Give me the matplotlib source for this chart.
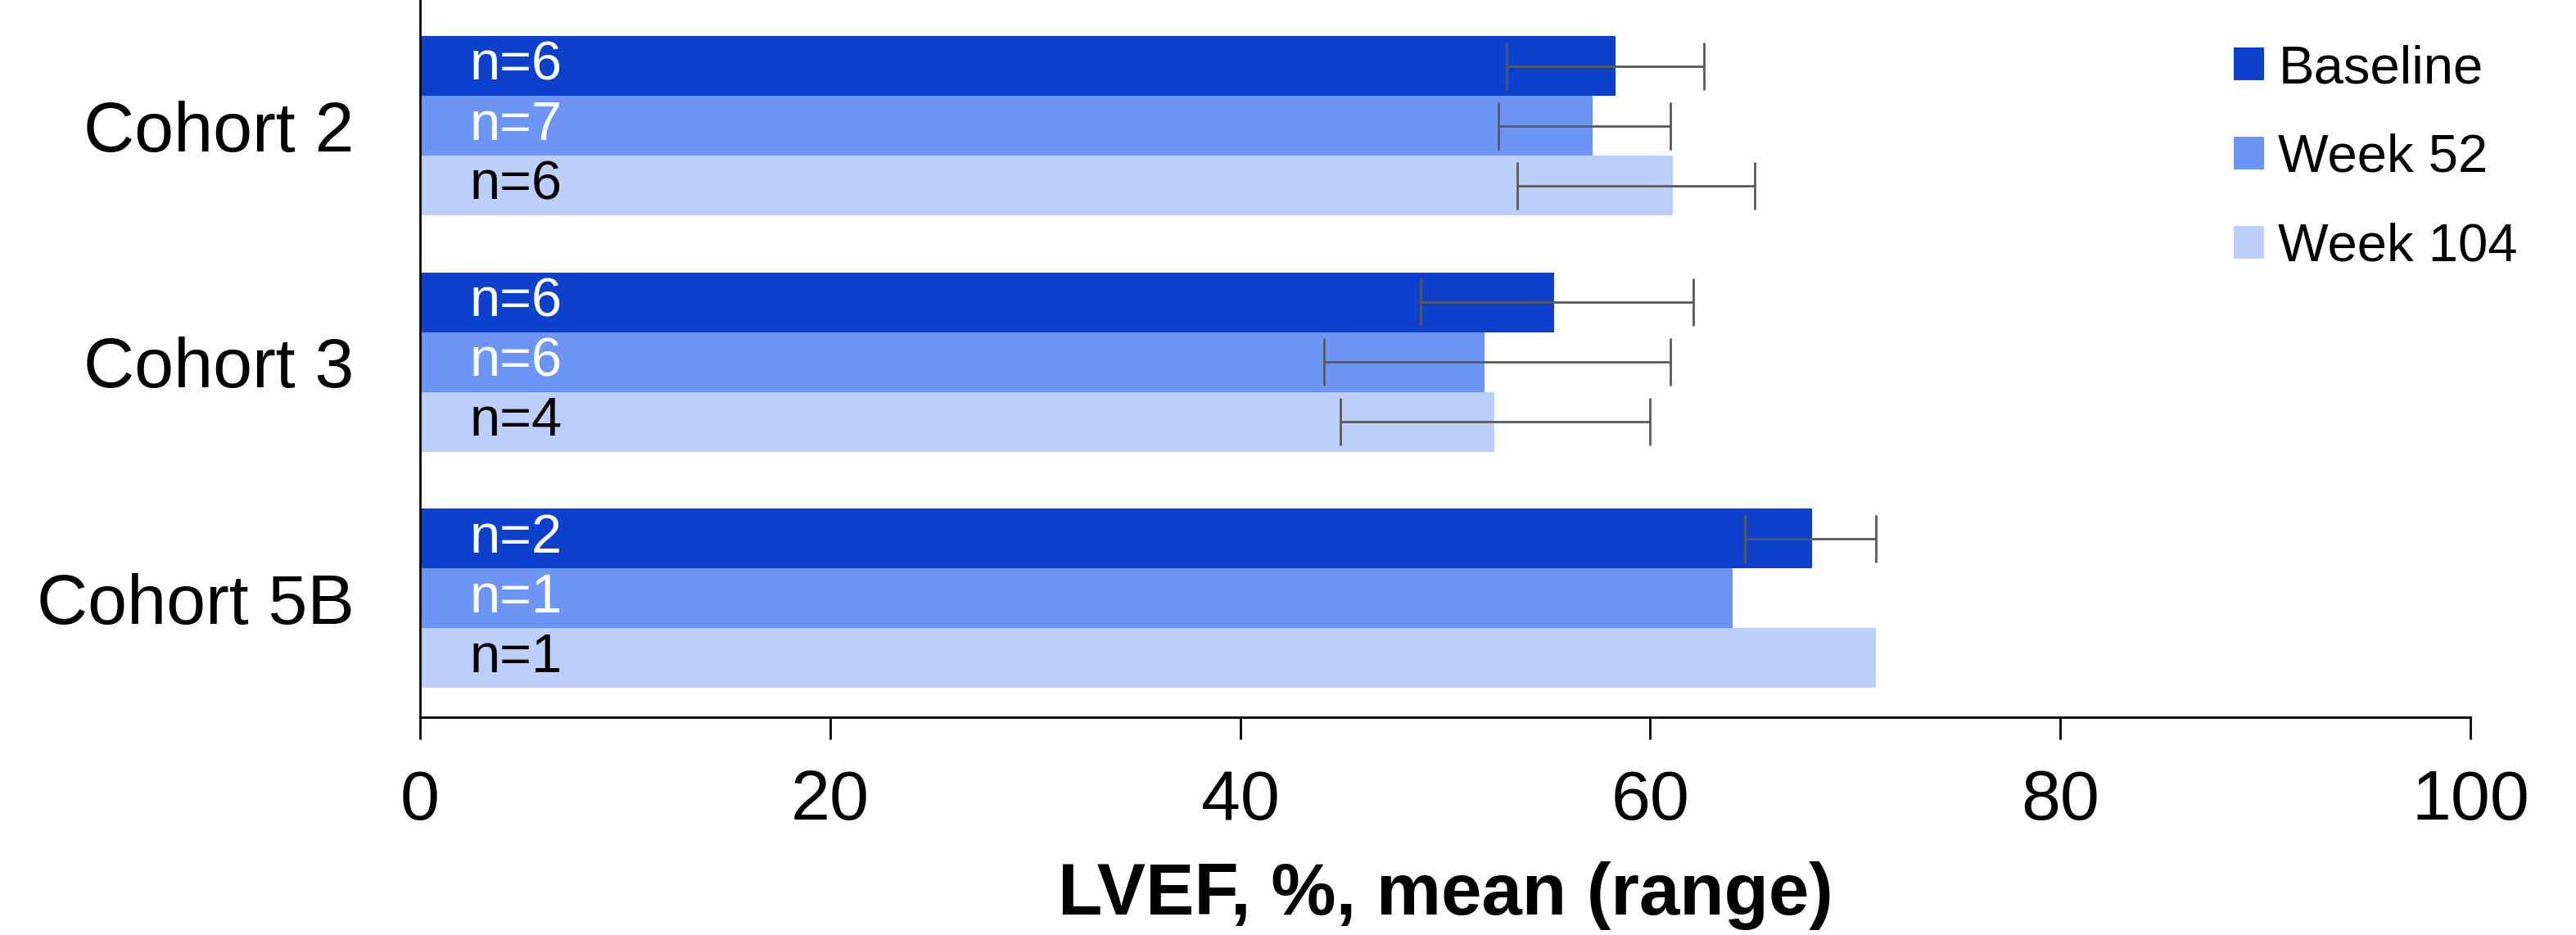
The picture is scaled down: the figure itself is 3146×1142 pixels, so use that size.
import matplotlib
matplotlib.use("Agg")
import matplotlib.pyplot as plt
import numpy as np

plt.rcParams['font.family'] = ['Liberation Sans', 'DejaVu Sans']

# data
cohorts = ["Cohort 2", "Cohort 3", "Cohort 5B"]
series = ["Baseline", "Week 52", "Week 104"]
colors = ["#0B41CD", "#6C95F5", "#BCCEFA"]
text_colors = ["white", "white", "black"]

means = [
    [58.3, 55.3, 67.9],   # Baseline
    [57.2, 51.9, 64.0],   # Week 52
    [61.1, 52.4, 71.0],   # Week 104
]
range_lo = [
    [53.0, 48.8, 64.6],
    [52.6, 44.1, np.nan],
    [53.5, 44.9, np.nan],
]
range_hi = [
    [62.6, 62.1, 71.0],
    [61.0, 61.0, np.nan],
    [65.1, 60.0, np.nan],
]
n_counts = [
    [6, 6, 2],
    [7, 6, 1],
    [6, 4, 1],
]

DPI = 200
fig = plt.figure(figsize=(3146 / DPI, 1142 / DPI), dpi=DPI)
ax = fig.add_axes([513 / 3146, 1 - 876 / 1142, (3017 - 513) / 3146, 876 / 1142])

ypos = np.arange(len(cohorts))
h = 0.253
for i, name in enumerate(series):
    y = ypos + (i - 1) * h
    m = np.array(means[i])
    lo = np.array(range_lo[i])
    hi = np.array(range_hi[i])
    ax.barh(y, m, height=h, color=colors[i], label=name, zorder=2)
    ax.errorbar(m, y, xerr=[m - lo, hi - m], fmt='none', ecolor='#595959',
                elinewidth=1.0, capsize=10.5, capthick=1.0, zorder=3)
    for yy, n in zip(y, n_counts[i]):
        ax.text(2.4, yy, f"n={n}", color=text_colors[i], fontsize=24,
                ha='left', va='center', zorder=4)

ax.set_xlim(0, 100)
ax.set_ylim(2.504, -0.532)
ax.set_xticks([0, 20, 40, 60, 80, 100])
ax.set_yticks(ypos)
ax.set_yticklabels(cohorts)
ax.tick_params(axis='x', direction='out', length=9.7, width=1.0, labelsize=31, pad=13)
ax.tick_params(axis='y', length=0, labelsize=31, pad=29)
for s in ['top', 'right']:
    ax.spines[s].set_visible(False)
for s in ['left', 'bottom']:
    ax.spines[s].set_linewidth(1.0)

ax.set_xlabel("LVEF, %, mean (range)", fontsize=32, fontweight='bold', labelpad=12)

fig.legend(loc='upper left', bbox_to_anchor=(2728 / 3146, 1 - 54 / 1142),
           frameon=False, fontsize=23.5, handlelength=0.56, handleheight=0.56,
           handletextpad=0.27, labelspacing=0.75, borderpad=0, borderaxespad=0)

fig.savefig("out.png", dpi=DPI)
